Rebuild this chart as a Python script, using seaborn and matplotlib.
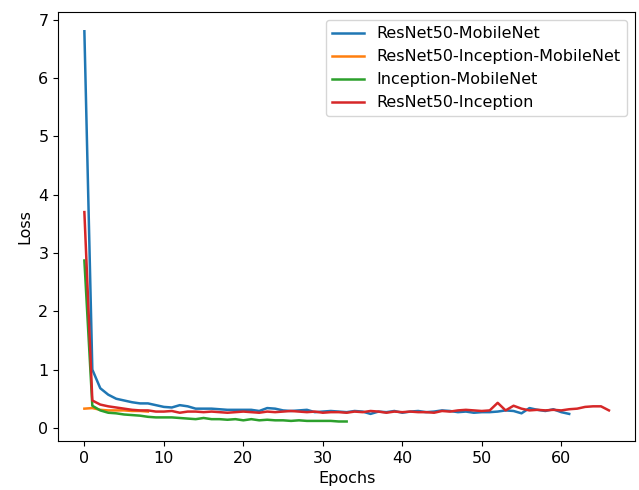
import numpy as np
import pandas as pd
import matplotlib
matplotlib.use("Agg")
import matplotlib.pyplot as plt
import seaborn as sns

# -------------------- DATA --------------------
labels = [
    "ResNet50-MobileNet",
    "ResNet50-Inception-MobileNet",
    "Inception-MobileNet",
    "ResNet50-Inception",
]
colors = ["#1f77b4", "#ff7f0e", "#2ca02c", "#d62728"]

loss_resnet_mobilenet = [
    6.8, 1.0, 0.68, 0.57, 0.5, 0.47, 0.44, 0.42, 0.42, 0.39,
    0.36, 0.35, 0.39, 0.37, 0.33, 0.33, 0.33, 0.32, 0.31, 0.31,
    0.31, 0.31, 0.29, 0.34, 0.33, 0.30, 0.29, 0.30, 0.31, 0.27,
    0.28, 0.29, 0.28, 0.27, 0.29, 0.28, 0.24, 0.28, 0.27, 0.29,
    0.26, 0.28, 0.29, 0.27, 0.28, 0.30, 0.29, 0.27, 0.28, 0.26,
    0.27, 0.27, 0.28, 0.30, 0.29, 0.25, 0.34, 0.31, 0.29, 0.32,
    0.27, 0.24,
]
loss_resnet_inception_mobilenet = [0.33, 0.34, 0.31, 0.30, 0.30, 0.30, 0.29, 0.29, 0.28]
loss_inception_mobilenet = [
    2.87, 0.38, 0.30, 0.26, 0.25, 0.23, 0.22, 0.21, 0.19, 0.18,
    0.18, 0.18, 0.17, 0.16, 0.15, 0.17, 0.15, 0.15, 0.14, 0.15,
    0.13, 0.15, 0.13, 0.14, 0.13, 0.13, 0.12, 0.13, 0.12, 0.12,
    0.12, 0.12, 0.11, 0.11,
]
loss_resnet_inception = [
    3.7, 0.47, 0.40, 0.37, 0.35, 0.33, 0.31, 0.30, 0.30, 0.28,
    0.28, 0.29, 0.26, 0.28, 0.28, 0.27, 0.28, 0.27, 0.26, 0.27,
    0.28, 0.27, 0.26, 0.28, 0.27, 0.28, 0.29, 0.28, 0.27, 0.28,
    0.26, 0.27, 0.27, 0.26, 0.28, 0.27, 0.29, 0.28, 0.26, 0.28,
    0.27, 0.28, 0.27, 0.27, 0.26, 0.29, 0.28, 0.30, 0.31, 0.30,
    0.29, 0.30, 0.43, 0.30, 0.38, 0.33, 0.30, 0.31, 0.30, 0.31,
    0.30, 0.32, 0.33, 0.36, 0.37, 0.37, 0.30,
]
series = [
    loss_resnet_mobilenet,
    loss_resnet_inception_mobilenet,
    loss_inception_mobilenet,
    loss_resnet_inception,
]

# -------------------- PLOT --------------------
plt.rcParams["font.size"] = 11.5

fig, ax = plt.subplots(figsize=(6.39, 4.9), dpi=100)
fig.subplots_adjust(left=0.091, right=0.994, top=0.976, bottom=0.1)

for label, color, values in zip(labels, colors, series):
    df = pd.DataFrame({"Epochs": np.arange(len(values)), "Loss": values})
    sns.lineplot(data=df, x="Epochs", y="Loss", color=color, label=label,
                 linewidth=1.8, ax=ax)

ax.legend(loc="upper right")
ax.set_xlabel("Epochs")
ax.set_ylabel("Loss")

plt.savefig("out.png", dpi=100)
